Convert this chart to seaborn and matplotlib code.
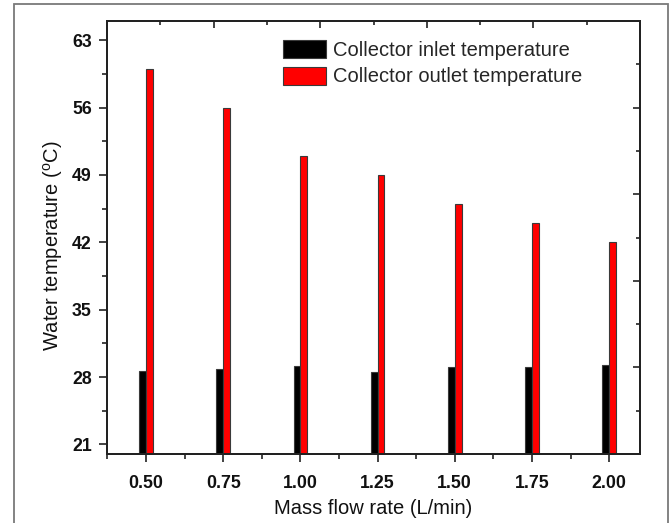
import numpy as np
import pandas as pd
import matplotlib
matplotlib.use("Agg")
import matplotlib.pyplot as plt
import seaborn as sns
from matplotlib.patches import Rectangle
from matplotlib.ticker import FixedLocator

# Flow rates (L/min) and measured water temperatures (°C)
flow_rates = ["0.50", "0.75", "1.00", "1.25", "1.50", "1.75", "2.00"]
inlet_temp = [28.6, 28.8, 29.1, 28.5, 29.0, 29.0, 29.3]
outlet_temp = [60.0, 56.0, 51.0, 49.0, 46.0, 44.0, 42.0]
series_names = ["Collector inlet temperature", "Collector outlet temperature"]
series_colors = ["#000000", "#ff0000"]
y_ticks = [21, 28, 35, 42, 49, 56, 63]

sns.set_theme(style="ticks")
plt.rcParams["font.family"] = ["Liberation Sans", "DejaVu Sans"]
plt.rcParams["mathtext.fontset"] = "custom"
plt.rcParams["mathtext.rm"] = "Liberation Sans"

df = pd.DataFrame({
    "flow": flow_rates * 2,
    "temp": inlet_temp + outlet_temp,
    "series": [series_names[0]] * len(flow_rates) + [series_names[1]] * len(flow_rates),
})

W, H = 669, 523
fig = plt.figure(figsize=(W / 100, H / 100), dpi=100)
fig.patch.set_facecolor("white")

# outer frame around the figure
fig.add_artist(Rectangle((14 / W, -0.05), 654 / W - 0.0005, 1.05 - 4.5 / H,
                         transform=fig.transFigure, fill=False,
                         edgecolor="#7a7a7a", linewidth=1.3))

ax = fig.add_axes([107 / W, 1 - 454 / H, 533 / W, 433 / H])
sns.barplot(data=df, x="flow", y="temp", hue="series", order=flow_rates,
            hue_order=series_names, palette=series_colors, saturation=1,
            width=0.176, dodge=True, errorbar=None, edgecolor="#3a3a3a",
            linewidth=0.8, ax=ax)

ax.set_xlim(-0.505, 6.40)
ax.set_ylim(20, 65)
ax.yaxis.set_major_locator(FixedLocator(y_ticks))
ax.yaxis.set_minor_locator(FixedLocator([t + 3.5 for t in y_ticks[:-1]]))
ax.xaxis.set_minor_locator(FixedLocator(np.arange(-0.5, 6.5, 1.0)))

for sp in ax.spines.values():
    sp.set_visible(True)
    sp.set_linewidth(1.3)
    sp.set_color("#222222")

ax.tick_params(axis="x", which="major", direction="out", length=6, width=1.2,
               color="#222222", labelsize=12.8, pad=9)
ax.tick_params(axis="y", which="major", direction="out", length=6, width=1.2,
               color="#222222", labelsize=12.8, pad=5)
ax.tick_params(axis="both", which="minor", direction="out", length=3.5, width=1.2,
               color="#222222")
for lab in ax.get_xticklabels() + ax.get_yticklabels():
    lab.set_fontweight("bold")
    lab.set_color("#111111")

ax.set_xlabel("Mass flow rate (L/min)", fontsize=14.5, labelpad=5, color="#111111")
ax.set_ylabel(r"Water temperature ($^{\mathrm{o}}$C)", fontsize=14.5, color="#111111")
ax.yaxis.set_label_coords(-0.079, 0.48)

# inward ticks on the top and right frame
ax_top = ax.twiny()
ax_top.set_xlim(0, 1)
ax_top.xaxis.set_major_locator(FixedLocator([0.2, 0.4, 0.6, 0.8]))
ax_top.xaxis.set_minor_locator(FixedLocator([0.1, 0.3, 0.5, 0.7, 0.9]))
ax_top.tick_params(axis="x", which="major", direction="in", length=5, width=1.2,
                   color="#222222", labeltop=False)
ax_top.tick_params(axis="x", which="minor", direction="in", length=3, width=1.2,
                   color="#222222")
ax_right = ax.twinx()
ax_right.set_ylim(0, 1)
ax_right.yaxis.set_major_locator(FixedLocator([0.2, 0.4, 0.6, 0.8]))
ax_right.yaxis.set_minor_locator(FixedLocator([0.1, 0.3, 0.5, 0.7, 0.9]))
ax_right.tick_params(axis="y", which="major", direction="in", length=5, width=1.2,
                     color="#222222", labelright=False)
ax_right.tick_params(axis="y", which="minor", direction="in", length=3, width=1.2,
                     color="#222222")
for a in (ax_top, ax_right):
    for sp in a.spines.values():
        sp.set_linewidth(1.3)
        sp.set_color("#222222")

handles, labels = ax.get_legend_handles_labels()
ax.legend(handles, labels, loc="upper left", bbox_to_anchor=(0.33, 0.957),
          frameon=False, fontsize=14.5, handlelength=2.15, handleheight=1.0,
          handletextpad=0.35, labelspacing=0.35, borderpad=0, borderaxespad=0)

fig.savefig("out.png", dpi=100)
